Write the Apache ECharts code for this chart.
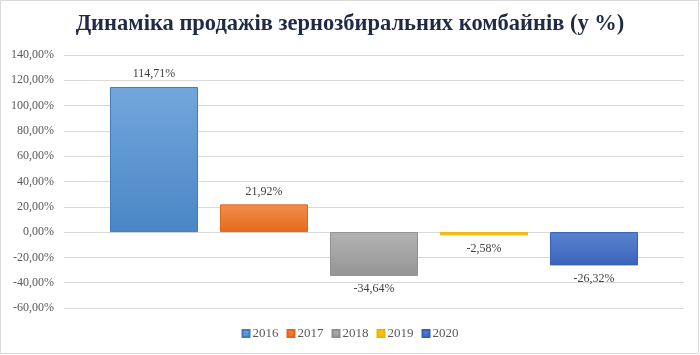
<!DOCTYPE html>
<html>
<head>
<meta charset="utf-8">
<script src="https://cdn.jsdelivr.net/npm/echarts@6/dist/echarts.min.js"></script>
<style>
html,body{margin:0;padding:0;background:#fff;}
#chart{width:700px;height:355px;}
</style>
</head>
<body>
<div id="chart"></div>
<script>
var years = ['2016', '2017', '2018', '2019', '2020'];
var values = [114.71, 21.92, -34.64, -2.58, -26.32];
var yTicks = [-60, -40, -20, 0, 20, 40, 60, 80, 100, 120, 140];
var titleText = 'Динаміка продажів зернозбиральних комбайнів (у %)';

var palette = [
  {top: '#72a7dc', bottom: '#4a86c6', border: '#3f7bc0'},
  {top: '#f28d4f', bottom: '#e56b1c', border: '#e0661a'},
  {top: '#b3b3b3', bottom: '#959595', border: '#8f8f8f'},
  {top: '#ffc81f', bottom: '#f5b800', border: '#f0b400'},
  {top: '#5a84d0', bottom: '#3a63b8', border: '#3560b8'}
];

function fmt(v) {
  return v.toFixed(2).replace('.', ',') + '%';
}

var FONT = '"Liberation Serif", "Times New Roman", serif';

var series = years.map(function (y, i) {
  var c = palette[i];
  return {
    name: y,
    type: 'bar',
    data: [values[i]],
    barWidth: 88,
    barGap: '25%',
    itemStyle: {
      color: new echarts.graphic.LinearGradient(0, 0, 0, 1, [
        {offset: 0, color: c.top},
        {offset: 1, color: c.bottom}
      ]),
      borderColor: c.border,
      borderWidth: 1
    },
    label: {
      show: true,
      position: values[i] >= 0 ? 'top' : 'bottom',
      distance: 7,
      formatter: function (p) { return fmt(p.value); },
      fontFamily: FONT,
      fontSize: 12,
      color: '#404040'
    }
  };
});

var chart = echarts.init(document.getElementById('chart'), null, {renderer: 'canvas'});
chart.setOption({
  animation: false,
  backgroundColor: '#ffffff',
  title: {
    text: titleText,
    left: 'center',
    top: 8,
    textStyle: {
      fontFamily: FONT,
      fontWeight: 'bold',
      fontSize: 22.5,
      color: '#1f2a44'
    }
  },
  legend: {
    data: years,
    bottom: 10,
    left: 'center',
    itemWidth: 7,
    itemHeight: 7,
    itemGap: 8,
    icon: 'rect',
    textStyle: {
      fontFamily: FONT,
      fontSize: 13,
      color: '#595959',
      padding: [0, 0, 0, -2]
    }
  },
  grid: {
    left: 64,
    right: 16,
    top: 55,
    bottom: 47,
    containLabel: false
  },
  xAxis: {
    type: 'category',
    data: [''],
    axisLine: {show: false},
    axisTick: {show: false},
    axisLabel: {show: false}
  },
  yAxis: {
    type: 'value',
    min: yTicks[0],
    max: yTicks[yTicks.length - 1],
    interval: 20,
    axisLine: {show: false},
    axisTick: {show: false},
    axisLabel: {
      formatter: function (v) { return fmt(v); },
      fontFamily: FONT,
      fontSize: 12,
      color: '#595959',
      margin: 10
    },
    splitLine: {lineStyle: {color: '#d9d9d9', width: 1}}
  },
  series: series,
  graphic: [{
    type: 'rect',
    shape: {x: 0.5, y: 0.5, width: 698, height: 353},
    style: {fill: 'none', stroke: '#d9d9d9', lineWidth: 1},
    silent: true,
    z: 100
  }]
});
</script>
</body>
</html>
